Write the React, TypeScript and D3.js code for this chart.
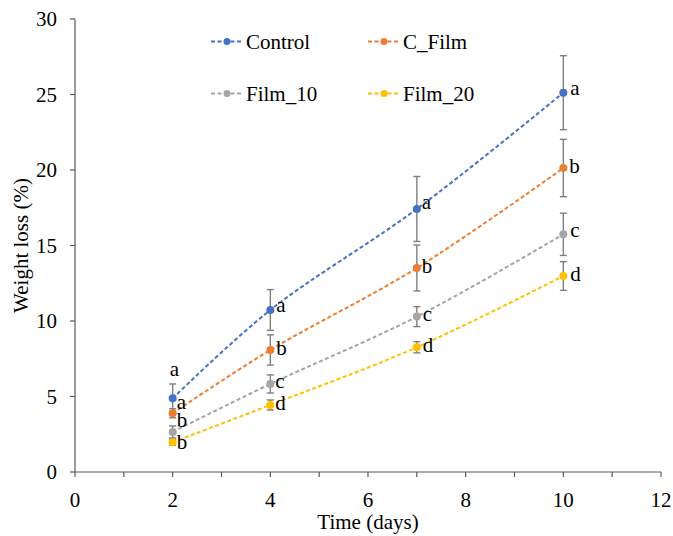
import React from "react";
import * as d3 from "d3";

const days = [2, 4, 7, 10];
const seriesNames = ["Control", "C_Film", "Film_10", "Film_20"];
const controlValues = [4.88, 10.73, 17.42, 25.12];
const controlErrors = [0.95, 1.35, 2.15, 2.45];
const cFilmValues = [3.89, 8.08, 13.51, 20.13];
const cFilmErrors = [0.3, 1.0, 1.52, 1.9];
const film10Values = [2.65, 5.83, 10.29, 15.74];
const film10Errors = [0.4, 0.6, 0.66, 1.4];
const film20Values = [1.97, 4.44, 8.26, 12.98];
const film20Errors = [0.2, 0.33, 0.37, 0.95];
const controlLetters = ["a", "a", "a", "a"];
const cFilmLetters = ["a", "b", "b", "b"];
const film10Letters = ["b", "c", "c", "c"];
const film20Letters = ["b", "d", "d", "d"];
const xTicks = [0, 2, 4, 6, 8, 10, 12];
const yTicks = [0, 5, 10, 15, 20, 25, 30];

const colors = ["#4472C4", "#ED7D31", "#A5A5A5", "#FFC000"];
const FONT = "'Liberation Serif', 'Times New Roman', 'DejaVu Serif', serif";
const FS = 21;

// label nudges (layout only): [dx, dy] for each series at each day
const labelNudge: [number, number][][] = [
  [[-3, -22], [6, 2], [5, 0], [7, 2]],
  [[4, -4], [6, 5], [5, 5], [6, 5]],
  [[4, -5], [5, 4], [6, 4], [7, 3]],
  [[4, 7], [5, 5], [6, 5], [7, 5]],
];

export default function App() {
  const W = 673, H = 536;
  const x = d3.scaleLinear().domain([0, 12]).range([75, 661]);
  const y = d3.scaleLinear().domain([0, 30]).range([472, 19]);
  const series = [
    { name: seriesNames[0], v: controlValues, e: controlErrors, l: controlLetters },
    { name: seriesNames[1], v: cFilmValues, e: cFilmErrors, l: cFilmLetters },
    { name: seriesNames[2], v: film10Values, e: film10Errors, l: film10Letters },
    { name: seriesNames[3], v: film20Values, e: film20Errors, l: film20Letters },
  ];
  const line = d3
    .line<[number, number]>()
    .x((d) => x(d[0]))
    .y((d) => y(d[1]))
    .curve(d3.curveCatmullRom.alpha(0.5));
  const minorTicks = d3.range(0, 13, 1);
  const legendPos = [
    [211, 41.5],
    [368, 41.5],
    [211, 93.5],
    [368, 93.5],
  ];
  const tx = { fontFamily: FONT, fill: "#000" };

  return (
    <svg
      width={W}
      height={H}
      style={{ position: "absolute", left: 0, top: 0, background: "#fff" }}
    >
      <rect width={W} height={H} fill="#fff" />
      {/* axes */}
      <line x1={x(0)} x2={x(12)} y1={y(0)} y2={y(0)} stroke="#595959" strokeWidth={1.2} />
      <line x1={x(0)} x2={x(0)} y1={y(0)} y2={y(30)} stroke="#595959" strokeWidth={1.2} />
      {minorTicks.map((t) => (
        <line key={"xt" + t} x1={x(t)} x2={x(t)} y1={y(0)} y2={y(0) + 5} stroke="#595959" strokeWidth={1.2} />
      ))}
      {yTicks.map((t) => (
        <line key={"yt" + t} x1={x(0) - 5} x2={x(0)} y1={y(t)} y2={y(t)} stroke="#595959" strokeWidth={1.2} />
      ))}
      {xTicks.map((t) => (
        <text key={"xl" + t} x={x(t)} y={507} fontSize={FS} textAnchor="middle" style={tx}>
          {t}
        </text>
      ))}
      {yTicks.map((t) => (
        <text key={"yl" + t} x={57} y={y(t) + 7} fontSize={FS} textAnchor="end" style={tx}>
          {t}
        </text>
      ))}
      <text x={368} y={529} fontSize={FS} textAnchor="middle" style={tx}>
        Time (days)
      </text>
      <text
        transform={`translate(28, ${(y(0) + y(30)) / 2}) rotate(-90)`}
        fontSize={FS}
        textAnchor="middle"
        style={tx}
      >
        Weight loss (%)
      </text>

      {/* lines */}
      {series.map((s, i) => (
        <path
          key={"ln" + i}
          d={line(days.map((d, j) => [d, s.v[j]] as [number, number])) || ""}
          fill="none"
          stroke={colors[i]}
          strokeWidth={2}
          strokeDasharray="4,2.5"
        />
      ))}
      {/* error bars */}
      {series.map((s, i) =>
        days.map((d, j) => (
          <g key={"eb" + i + "-" + j} stroke="#7F7F7F" strokeWidth={1.4}>
            <line x1={x(d)} x2={x(d)} y1={y(s.v[j] + s.e[j])} y2={y(s.v[j] - s.e[j])} />
            <line x1={x(d) - 3.5} x2={x(d) + 3.5} y1={y(s.v[j] + s.e[j])} y2={y(s.v[j] + s.e[j])} />
            <line x1={x(d) - 3.5} x2={x(d) + 3.5} y1={y(s.v[j] - s.e[j])} y2={y(s.v[j] - s.e[j])} />
          </g>
        ))
      )}
      {/* markers */}
      {series.map((s, i) =>
        days.map((d, j) => (
          <circle key={"pt" + i + "-" + j} cx={x(d)} cy={y(s.v[j])} r={4} fill={colors[i]} />
        ))
      )}
      {/* letters */}
      {series.map((s, i) =>
        days.map((d, j) => (
          <text
            key={"lt" + i + "-" + j}
            x={x(d) + labelNudge[i][j][0]}
            y={y(s.v[j]) + labelNudge[i][j][1]}
            fontSize={FS}
            style={tx}
          >
            {s.l[j]}
          </text>
        ))
      )}
      {/* legend */}
      {series.map((s, i) => {
        const [lx, ly] = legendPos[i];
        return (
          <g key={"lg" + i}>
            <line x1={lx} x2={lx + 32} y1={ly} y2={ly} stroke={colors[i]} strokeWidth={2} strokeDasharray="4,2.5" />
            <circle cx={lx + 16} cy={ly} r={3.5} fill={colors[i]} />
            <text x={lx + 35} y={ly + 7} fontSize={FS} style={tx}>
              {s.name}
            </text>
          </g>
        );
      })}
    </svg>
  );
}
